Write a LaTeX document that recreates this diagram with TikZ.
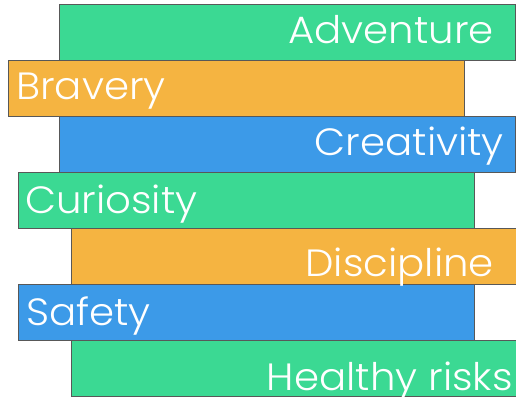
\documentclass[tikz,border=0pt]{standalone}
\usepackage{fontspec}
\setmainfont{Poppins}[UprightFont={* Light}, FakeStretch=1.06]
\definecolor{barGreen}{RGB}{59,217,147}
\definecolor{barOrange}{RGB}{245,180,65}
\definecolor{barBlue}{RGB}{60,154,232}
\definecolor{barLine}{RGB}{88,88,88}
\begin{document}
\begin{tikzpicture}[x=1pt, y=-1pt,
    bar/.style={draw=barLine, line width=1.3pt, minimum width=456pt, minimum height=56pt, inner sep=0pt, anchor=north west},
    lbl/.style={text=white, font=\fontsize{38}{40}\selectfont, inner sep=0pt}]
        \useasboundingbox (0, 0) rectangle (516, 397);
        \clip (0, 0) rectangle (516, 397);
        % bars, top to bottom
        \node[bar, fill=barGreen] (adventure) at (59, 4) {};
        \node[bar, fill=barOrange] (bravery) at (8, 60) {};
        \node[bar, fill=barBlue] (creativity) at (59, 116) {};
        \node[bar, fill=barGreen] (curiosity) at (18, 172) {};
        \node[bar, fill=barOrange] (discipline) at (71, 228) {};
        \node[bar, fill=barBlue] (safety) at (18, 284) {};
        \node[bar, fill=barGreen] (healthy) at (71, 340) {};
        % labels
        \node[lbl, anchor=base east] (adventureText) at (494, 43) {Adventure};
        \node[lbl, anchor=base west] (braveryText) at (16, 99) {Bravery};
        \node[lbl, anchor=base east] (creativityText) at (504, 155) {Creativity};
        \node[lbl, anchor=base west] (curiosityText) at (25, 213) {Curiosity};
        \node[lbl, anchor=base east] (disciplineText) at (494, 276) {Discipline};
        \node[lbl, anchor=base west] (safetyText) at (26, 325) {Safety};
        \node[lbl, anchor=base east] (healthyText) at (513, 390) {Healthy risks};
\end{tikzpicture}
\end{document}
